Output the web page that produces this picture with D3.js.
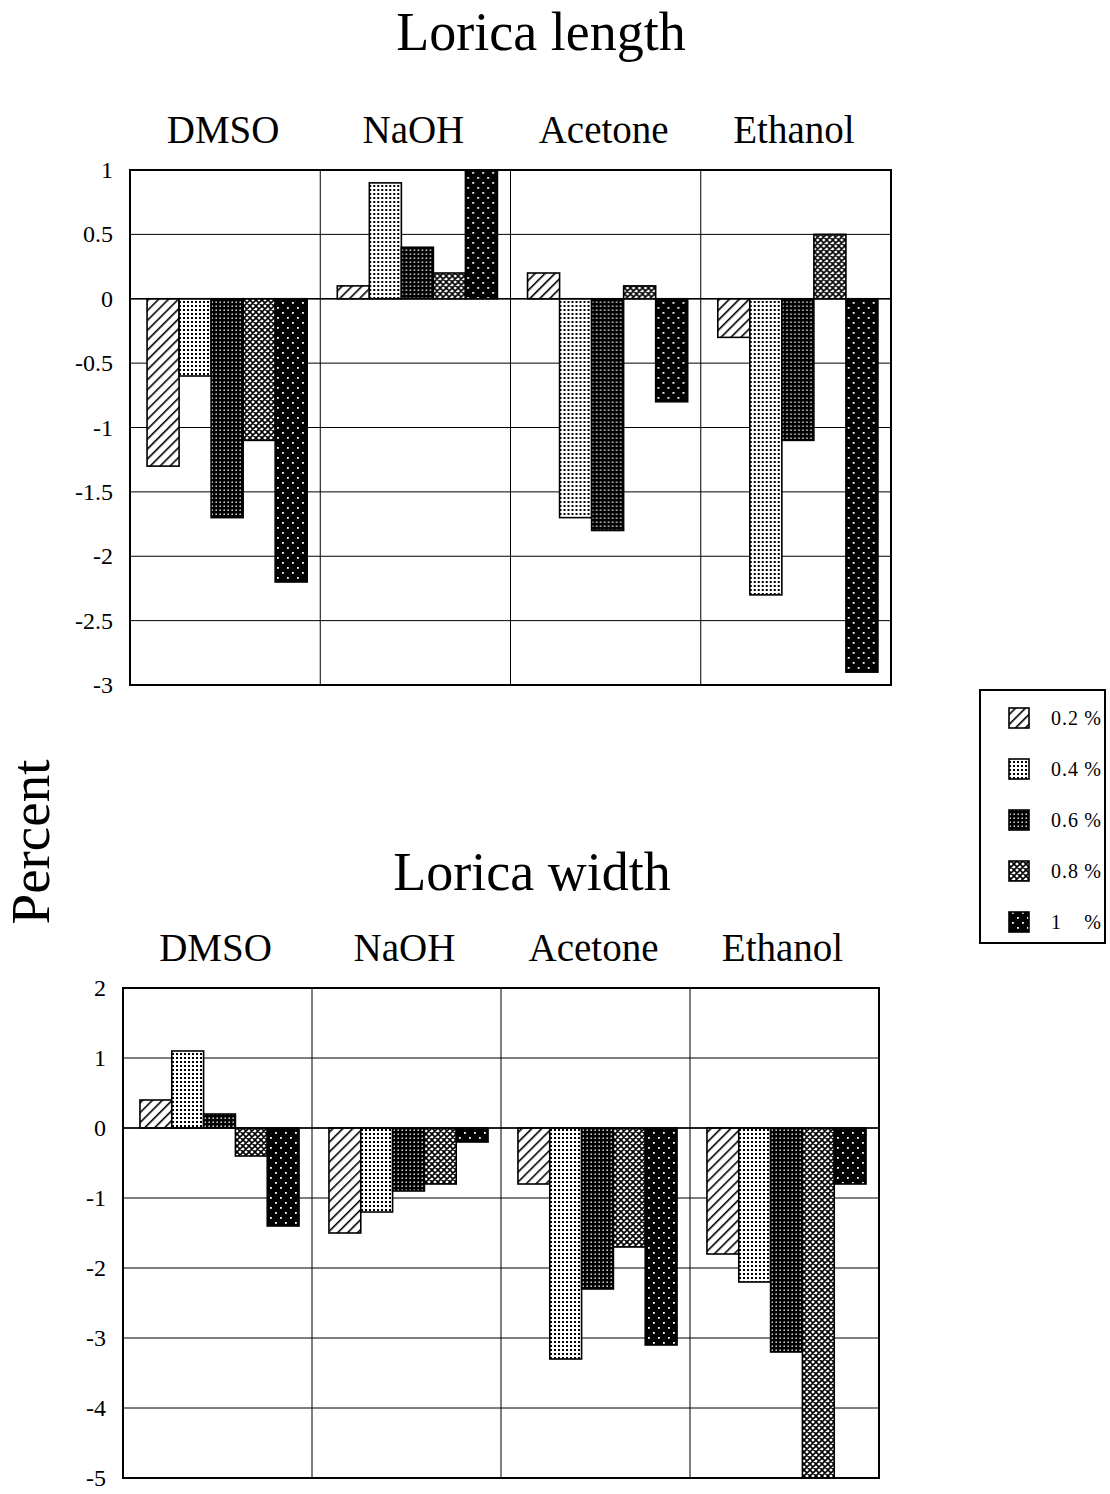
<!DOCTYPE html>
<html>
<head>
<meta charset="utf-8">
<script src="https://cdn.jsdelivr.net/npm/d3@7"></script>
<style>
  body { margin: 0; background: #fff; }
  text { font-family: "Liberation Serif", "Times New Roman", serif; fill: #000; }
</style>
</head>
<body>
<svg id="container" width="1110" height="1494"></svg>
<script>
const categories = ["DMSO", "NaOH", "Acetone", "Ethanol"];
const concentrations = ["0.2", "0.4", "0.6", "0.8", "1"];

// rows = categories, columns = concentrations
const lengthValues = [
  [-1.3, -0.6, -1.7, -1.1, -2.2],
  [0.1, 0.9, 0.4, 0.2, 1.0],
  [0.2, -1.7, -1.8, 0.1, -0.8],
  [-0.3, -2.3, -1.1, 0.5, -2.9]
];
const widthValues = [
  [0.4, 1.1, 0.2, -0.4, -1.4],
  [-1.5, -1.2, -0.9, -0.8, -0.2],
  [-0.8, -3.3, -2.3, -1.7, -3.1],
  [-1.8, -2.2, -3.2, -5.0, -0.8]
];
const lengthTicks = [1, 0.5, 0, -0.5, -1, -1.5, -2, -2.5, -3];
const widthTicks = [2, 1, 0, -1, -2, -3, -4, -5];

const svg = d3.select("#container");
const defs = svg.append("defs");

// fill patterns, one per concentration
const p02 = defs.append("pattern").attr("id", "p0").attr("width", 7).attr("height", 7)
  .attr("patternUnits", "userSpaceOnUse").attr("patternTransform", "rotate(45)");
p02.append("rect").attr("width", 7).attr("height", 7).attr("fill", "#fff");
p02.append("line").attr("x1", 0).attr("y1", 0).attr("x2", 0).attr("y2", 7)
  .attr("stroke", "#000").attr("stroke-width", 3.2);

const p04 = defs.append("pattern").attr("id", "p1").attr("width", 4).attr("height", 4)
  .attr("patternUnits", "userSpaceOnUse");
p04.append("rect").attr("width", 4).attr("height", 4).attr("fill", "#fff");
p04.append("rect").attr("x", 1).attr("y", 1).attr("width", 2).attr("height", 2).attr("fill", "#000");

const p06 = defs.append("pattern").attr("id", "p2").attr("width", 4).attr("height", 4)
  .attr("patternUnits", "userSpaceOnUse");
p06.append("rect").attr("width", 4).attr("height", 4).attr("fill", "#000");
p06.append("rect").attr("x", 1.5).attr("y", 1.5).attr("width", 1.4).attr("height", 1.4).attr("fill", "#fff");

const p08 = defs.append("pattern").attr("id", "p3").attr("width", 6).attr("height", 6)
  .attr("patternUnits", "userSpaceOnUse");
p08.append("rect").attr("width", 6).attr("height", 6).attr("fill", "#fff");
p08.append("path").attr("d", "M0,0L6,6M6,0L0,6M-1,5L1,7M5,-1L7,1M-1,1L1,-1M5,7L7,5")
  .attr("stroke", "#000").attr("stroke-width", 1.6);

const p1 = defs.append("pattern").attr("id", "p4").attr("width", 10).attr("height", 10)
  .attr("patternUnits", "userSpaceOnUse");
p1.append("rect").attr("width", 10).attr("height", 10).attr("fill", "#000");
p1.append("rect").attr("x", 2).attr("y", 2).attr("width", 1.8).attr("height", 1.8).attr("fill", "#fff");
p1.append("rect").attr("x", 7).attr("y", 7).attr("width", 1.8).attr("height", 1.8).attr("fill", "#fff");

function drawPanel(opts) {
  const g = svg.append("g");
  const x = d3.scaleBand().domain(categories).range([opts.left, opts.right]).padding(0);
  const x1 = d3.scaleBand().domain(concentrations).range([2, x.bandwidth() + 2])
    .paddingInner(0).paddingOuter(0.47);
  const y = d3.scaleLinear().domain([opts.ticks[opts.ticks.length - 1], opts.ticks[0]])
    .range([opts.bottom, opts.top]);

  // title and category labels
  g.append("text").attr("x", opts.titleX).attr("y", opts.titleY)
    .attr("text-anchor", "middle").attr("font-size", 54).text(opts.title);
  g.selectAll(".cat").data(categories).enter().append("text")
    .attr("x", (d) => x(d) + x.bandwidth() / 2 - 2)
    .attr("y", opts.top - 27)
    .attr("text-anchor", "middle").attr("font-size", 39).text((d) => d);

  // gridlines
  g.selectAll(".hgrid").data(opts.ticks).enter().append("line")
    .attr("x1", opts.left).attr("x2", opts.right)
    .attr("y1", (d) => y(d)).attr("y2", (d) => y(d))
    .attr("stroke", "#000").attr("stroke-width", 1);
  g.selectAll(".vgrid").data(categories.slice(1)).enter().append("line")
    .attr("x1", (d) => x(d)).attr("x2", (d) => x(d))
    .attr("y1", opts.top).attr("y2", opts.bottom)
    .attr("stroke", "#000").attr("stroke-width", 1);

  // y axis labels
  g.selectAll(".tick").data(opts.ticks).enter().append("text")
    .attr("x", opts.left - 17).attr("y", (d) => y(d) + 8)
    .attr("text-anchor", "end").attr("font-size", 24).text((d) => d);

  // bars
  const groups = g.selectAll(".grp").data(opts.values).enter().append("g")
    .attr("transform", (d, i) => `translate(${x(categories[i])},0)`);
  groups.selectAll("rect").data((d) => d).enter().append("rect")
    .attr("x", (d, j) => x1(concentrations[j]))
    .attr("width", x1.bandwidth())
    .attr("y", (d) => y(Math.max(0, d)))
    .attr("height", (d) => Math.abs(y(d) - y(0)))
    .attr("fill", (d, j) => `url(#p${j})`)
    .attr("stroke", "#000").attr("stroke-width", 1.6);

  // zero line and frame
  g.append("line").attr("x1", opts.left).attr("x2", opts.right)
    .attr("y1", y(0)).attr("y2", y(0)).attr("stroke", "#000").attr("stroke-width", 1.6);
  g.append("rect").attr("x", opts.left).attr("y", opts.top)
    .attr("width", opts.right - opts.left).attr("height", opts.bottom - opts.top)
    .attr("fill", "none").attr("stroke", "#000").attr("stroke-width", 2);
}

drawPanel({
  title: "Lorica length", titleX: 541, titleY: 50,
  left: 130, right: 891, top: 170, bottom: 685,
  ticks: lengthTicks, values: lengthValues
});
drawPanel({
  title: "Lorica width", titleX: 532, titleY: 890,
  left: 123, right: 879, top: 988, bottom: 1478,
  ticks: widthTicks, values: widthValues
});

// y axis title
svg.append("text").attr("transform", "translate(49,842) rotate(-90)")
  .attr("text-anchor", "middle").attr("font-size", 55).text("Percent");

// legend
const legend = svg.append("g");
legend.append("rect").attr("x", 980).attr("y", 690).attr("width", 125).attr("height", 253)
  .attr("fill", "#fff").attr("stroke", "#000").attr("stroke-width", 2);
const ly = d3.scalePoint().domain(concentrations).range([718, 922]);
legend.selectAll(".sw").data(concentrations).enter().append("rect")
  .attr("x", 1009).attr("y", (d) => ly(d) - 10).attr("width", 20).attr("height", 20)
  .attr("fill", (d, j) => `url(#p${j})`).attr("stroke", "#000").attr("stroke-width", 1.6);
legend.selectAll(".lab").data(concentrations).enter().append("text")
  .attr("x", 1051).attr("y", (d) => ly(d) + 7).attr("font-size", 20)
  .attr("letter-spacing", 1).text((d) => d);
legend.selectAll(".pct").data(concentrations).enter().append("text")
  .attr("x", 1101).attr("y", (d) => ly(d) + 7).attr("text-anchor", "end")
  .attr("font-size", 20).text("%");
</script>
</body>
</html>
